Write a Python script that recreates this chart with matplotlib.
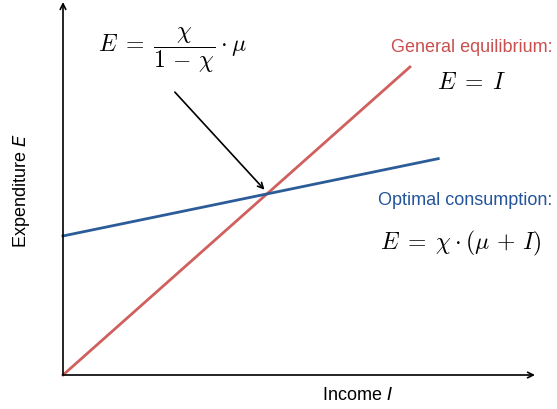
import numpy as np
import matplotlib.pyplot as plt

plt.rcParams['font.family'] = ['Liberation Sans', 'DejaVu Sans']
plt.rcParams['mathtext.fontset'] = 'cm'

# model parameters
chi = 0.232
mu = 14.3
income_red = np.array([0.0, 7.35])   # general equilibrium line E = I
income_blue = np.array([0.0, 7.95])  # optimal consumption line

red = '#d0605e'
blue = '#2b5c98'
red_txt = '#c9504e'
blue_txt = '#24559a'

fig = plt.figure(figsize=(5.57, 4.10), dpi=100)
ax = fig.add_axes([63 / 557, 34 / 410, 472 / 557, 373 / 410])
ax.set_xlim(0, 10)
ax.set_ylim(0, 8.9)
ax.axis('off')

# axes with arrows
ax.annotate('', xy=(10, 0), xytext=(0, 0),
            arrowprops=dict(arrowstyle='->', lw=1.2, color='black', shrinkA=0, shrinkB=0),
            annotation_clip=False)
ax.annotate('', xy=(0, 8.9), xytext=(0, 0),
            arrowprops=dict(arrowstyle='->', lw=1.2, color='black', shrinkA=0, shrinkB=0),
            annotation_clip=False)

ax.plot(income_red, income_red, color=red, lw=2, clip_on=False)
ax.plot(income_blue, chi * (mu + income_blue), color=blue, lw=2, clip_on=False)

# intersection
i_star = chi * mu / (1 - chi)
ax.annotate('', xy=(i_star - 0.05, i_star + 0.1), xytext=(2.37, 6.75),
            arrowprops=dict(arrowstyle='->', lw=1.2, color='black', shrinkA=0, shrinkB=0))

ax.text(2.33, 7.76, r'$E\;=\;\dfrac{\chi}{1\,-\,\chi}\cdot\mu$', fontsize=17,
        ha='center', va='center')

ax.text(10.37, 7.85, 'General equilibrium:', color=red_txt, fontsize=13,
        ha='right', va='center', clip_on=False)
ax.text(8.65, 7.0, r'$E\;=\;I$', fontsize=17, ha='center', va='center')

ax.text(10.37, 4.18, 'Optimal consumption:', color=blue_txt, fontsize=13,
        ha='right', va='center', clip_on=False)
ax.text(8.43, 3.17, r'$E\;=\;\chi\cdot(\mu\,+\,I)$', fontsize=17,
        ha='center', va='center', clip_on=False)

fig.text(357 / 557, 1 - 396 / 410, 'Income $\\mathit{I}$', fontsize=13,
         ha='center', va='center', math_fontfamily='dejavusans')
fig.text(22 / 557, 1 - 191 / 410, 'Expenditure $\\mathit{E}$', fontsize=13,
         ha='center', va='center', rotation=90, math_fontfamily='dejavusans')

fig.savefig('out.png', dpi=100)
